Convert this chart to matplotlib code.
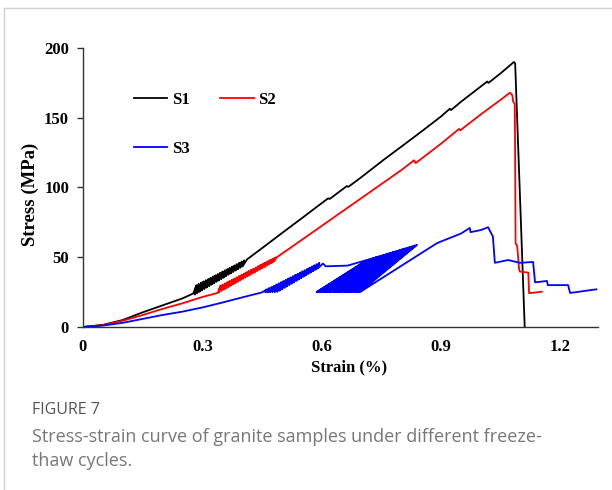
import matplotlib
matplotlib.use('Agg')
from matplotlib import pyplot as plt
from matplotlib.lines import Line2D

# ---- S1 (black) ----
s1_pre_x = [0, 0.05, 0.10, 0.15, 0.20, 0.25, 0.277]
s1_pre_y = [0, 1.5, 5, 10.5, 15.5, 20.5, 24]
# unloading/reloading cycles: peak points and valley points
s1_peak_x = [0.285, 0.291, 0.297, 0.303, 0.309, 0.315, 0.321, 0.327, 0.333, 0.339, 0.345,
             0.351, 0.357, 0.363, 0.369, 0.375, 0.381, 0.387, 0.393, 0.399, 0.405]
s1_peak_y = [30.0, 30.9, 31.8, 32.7, 33.6, 34.4, 35.3, 36.2, 37.1, 38.0, 38.9,
             39.8, 40.7, 41.5, 42.4, 43.3, 44.2, 45.1, 46.0, 46.9, 47.8]
s1_valley_x = [0.281, 0.287, 0.293, 0.299, 0.305, 0.311, 0.317, 0.323, 0.329, 0.335, 0.341,
               0.347, 0.353, 0.359, 0.365, 0.371, 0.377, 0.383, 0.389, 0.395, 0.401]
s1_valley_y = [23.2, 24.2, 25.2, 26.2, 27.2, 28.2, 29.3, 30.3, 31.3, 32.3, 33.3,
               34.3, 35.3, 36.4, 37.4, 38.4, 39.4, 40.4, 41.4, 42.4, 43.4]
s1_post_x = [0.412, 0.45, 0.50, 0.55, 0.60, 0.616, 0.620, 0.663, 0.667, 0.70, 0.754, 0.80,
             0.85, 0.90, 0.922, 0.925, 0.95, 1.00, 1.016, 1.019, 1.05, 1.083, 1.086, 1.11]
s1_post_y = [48.4, 56.5, 67.3, 78, 88.8, 92.2, 91.8, 101, 100.5, 107.5, 119.5, 129.3,
             140, 151, 156.5, 155.5, 161.5, 172.5, 176, 175, 182, 190, 189, 0]

# ---- S2 (red) ----
s2_pre_x = [0, 0.05, 0.10, 0.15, 0.20, 0.25, 0.30, 0.339]
s2_pre_y = [0, 1.3, 4.5, 8.6, 13, 17, 21.5, 24.5]
s2_peak_x = [0.345, 0.351, 0.357, 0.363, 0.369, 0.375, 0.381, 0.387, 0.393, 0.399, 0.405, 0.411,
             0.417, 0.423, 0.429, 0.435, 0.441, 0.447, 0.453, 0.459, 0.465, 0.471, 0.477, 0.483]
s2_peak_y = [29.5, 30.4, 31.3, 32.2, 33.1, 33.9, 34.8, 35.7, 36.6, 37.5, 38.4, 39.3,
             40.2, 41.0, 41.9, 42.8, 43.7, 44.6, 45.5, 46.4, 47.3, 48.1, 49.0, 49.9]
s2_valley_x = [0.341, 0.347, 0.353, 0.359, 0.365, 0.371, 0.377, 0.383, 0.389, 0.395, 0.401, 0.407,
               0.413, 0.419, 0.425, 0.431, 0.437, 0.443, 0.449, 0.455, 0.461, 0.467, 0.473, 0.479]
s2_valley_y = [24.8, 25.8, 26.7, 27.7, 28.6, 29.6, 30.5, 31.5, 32.5, 33.4, 34.4, 35.3,
               36.3, 37.2, 38.2, 39.1, 40.1, 41.0, 42.0, 42.9, 43.9, 44.9, 45.8, 46.8]
s2_post_x = [0.487, 0.55, 0.60, 0.65, 0.70, 0.75, 0.80, 0.832, 0.836, 0.90, 0.945, 0.948,
             1.00, 1.05, 1.073, 1.079, 1.081, 1.085, 1.086, 1.087, 1.091, 1.096,
             1.098, 1.119, 1.121, 1.153]
s2_post_y = [50, 62.5, 72.5, 82.5, 92.5, 102.5, 112.5, 119.5, 117.5, 131.5, 142, 141,
             152.5, 163, 168, 166, 161.5, 160, 122, 60, 58, 41,
             39.7, 39, 24.2, 25.3]

# ---- S3 (blue) ----
s3_pre_x = [0, 0.05, 0.10, 0.15, 0.20, 0.25, 0.30, 0.35, 0.40, 0.45]
s3_pre_y = [0, 1, 3, 5.8, 8.6, 11, 14, 17.5, 21.2, 24.8]
s3_peak_x = [0.462, 0.468, 0.474, 0.480, 0.486, 0.492, 0.498, 0.504, 0.510, 0.516, 0.522, 0.528,
             0.534, 0.540, 0.546, 0.552, 0.558, 0.564, 0.570, 0.576, 0.582, 0.588, 0.594]
s3_peak_y = [27.0, 27.9, 28.7, 29.6, 30.5, 31.3, 32.2, 33.0, 33.9, 34.8, 35.6, 36.5,
             37.4, 38.2, 39.1, 40.0, 40.8, 41.7, 42.6, 43.4, 44.3, 45.1, 46.0]
s3_valley_x = [0.458, 0.464, 0.470, 0.476, 0.482, 0.488, 0.494, 0.500, 0.506, 0.512, 0.518, 0.524,
               0.530, 0.536, 0.542, 0.548, 0.554, 0.560, 0.566, 0.572, 0.578, 0.584, 0.590]
s3_valley_y = [24.8, 24.8, 24.9, 25.0, 25.0, 25.2, 26.0, 27.0, 28.0, 29.0, 30.0, 31.0,
               32.0, 33.0, 34.0, 35.0, 36.0, 37.0, 38.0, 39.0, 40.0, 41.0, 42.0]
s3_mid_x = [0.603, 0.610, 0.665]
s3_mid_y = [45.5, 43.5, 44]
# second group of cycles, unloading down to about 25 MPa
s3_peak2_x = [0.713, 0.719, 0.725, 0.731, 0.737, 0.743, 0.749, 0.755, 0.761, 0.767, 0.773,
              0.779, 0.785, 0.791, 0.797, 0.803, 0.809, 0.815, 0.821, 0.827, 0.833, 0.839]
s3_peak2_y = [48.0, 48.5, 49.0, 49.6, 50.1, 50.6, 51.1, 51.6, 52.1, 52.7, 53.2,
              53.7, 54.2, 54.7, 55.3, 55.8, 56.3, 56.8, 57.3, 57.8, 58.4, 58.9]
s3_valley2_x = [0.587, 0.592, 0.597, 0.603, 0.608, 0.613, 0.618, 0.623, 0.629, 0.634, 0.639,
                0.644, 0.649, 0.655, 0.660, 0.665, 0.670, 0.675, 0.681, 0.686, 0.691, 0.696]
s3_valley2_y = [25.0, 25.0, 25.0, 25.0, 25.0, 25.0, 25.0, 25.0, 25.0, 25.0, 25.0,
                25.0, 25.0, 25.0, 25.0, 25.0, 25.0, 25.0, 25.0, 25.0, 25.0, 25.0]
s3_post_x = [0.889, 0.897, 0.95, 0.972, 0.974, 1.00, 1.018, 1.026, 1.030, 1.035,
             1.068, 1.098, 1.131, 1.136, 1.166, 1.168, 1.219, 1.224, 1.29]
s3_post_y = [60, 61, 67, 71, 68, 69.5, 71.5, 67, 65, 46,
             48, 46, 46.6, 32, 33, 30, 30, 24.4, 27]


def cycles(px, py, vx, vy):
    # peak -> valley -> next peak ...
    xs, ys = [], []
    for a, b, c, d in zip(px, py, vx, vy):
        xs += [a, c]
        ys += [b, d]
    return xs, ys


c1x, c1y = cycles(s1_peak_x, s1_peak_y, s1_valley_x, s1_valley_y)
s1_strain = s1_pre_x + c1x + s1_post_x
s1_stress = s1_pre_y + c1y + s1_post_y

c2x, c2y = cycles(s2_peak_x, s2_peak_y, s2_valley_x, s2_valley_y)
s2_strain = s2_pre_x + c2x + s2_post_x
s2_stress = s2_pre_y + c2y + s2_post_y

c3x, c3y = cycles(s3_peak_x, s3_peak_y, s3_valley_x, s3_valley_y)
c4x, c4y = cycles(s3_peak2_x, s3_peak2_y, s3_valley2_x, s3_valley2_y)
s3_strain = s3_pre_x + c3x + s3_mid_x + c4x + s3_post_x
s3_stress = s3_pre_y + c3y + s3_mid_y + c4y + s3_post_y

series = [('S1', s1_strain, s1_stress, 'black'),
          ('S2', s2_strain, s2_stress, '#ff0000'),
          ('S3', s3_strain, s3_stress, '#0000ff')]

fig = plt.figure(figsize=(6.12, 4.90), dpi=100)
ax = fig.add_axes([0.1356, 0.3327, 0.8414, 0.5693])

lines = {}
for name, xs, ys, col in series:
    lines[name], = ax.plot(xs, ys, color=col, lw=1.3, label=name)

ax.set_xlim(0, 1.294)
ax.set_ylim(0, 200)
ax.set_xticks([0, 0.3, 0.6, 0.9, 1.2])
ax.set_xticklabels(['0', '0.3', '0.6', '0.9', '1.2'])
ax.set_yticks([0, 50, 100, 150, 200])
for s in ['top', 'right']:
    ax.spines[s].set_visible(False)
for s in ['left', 'bottom']:
    ax.spines[s].set_color('#333333')
    ax.spines[s].set_linewidth(1.0)

ax.tick_params(axis='y', direction='out', length=4, width=1, color='#333333', pad=6)
ax.tick_params(axis='x', length=0, pad=9)
for lab in ax.get_xticklabels() + ax.get_yticklabels():
    lab.set_fontfamily('Liberation Serif')
    lab.set_fontweight('bold')
    lab.set_fontsize(12)

ax.set_xlabel('Strain (%)', family='Liberation Serif', weight='bold', size=12)
ax.xaxis.set_label_coords(0.516, -0.115)
ax.set_ylabel('Stress (MPa)', family='Liberation Serif', weight='bold', size=13.5)
ax.yaxis.set_label_coords(-0.085, 0.477)

ax.legend([lines['S1'], lines['S3'], lines['S2']], ['S1', 'S3', 'S2'],
          ncol=2, frameon=False, loc='upper left', bbox_to_anchor=(0.083, 0.874),
          borderpad=0, handlelength=2.0, handletextpad=0.26, columnspacing=1.86,
          labelspacing=2.0, prop=dict(family='Liberation Serif', weight='bold', size=12))

# border of the figure panel
fig.add_artist(Line2D([4 / 612, 4 / 612], [0, 1 - 8 / 490], color='#d0d0d0', lw=1))
fig.add_artist(Line2D([4 / 612, 1], [1 - 8 / 490, 1 - 8 / 490], color='#d0d0d0', lw=1))

fig.text(32 / 612, 1 - 410 / 490, 'FIGURE 7', family='Open Sans', size=11.5,
         color='#555555', va='center', ha='left')
fig.text(32 / 612, 1 - 437 / 490,
         'Stress-strain curve of granite samples under different freeze-',
         family='Open Sans', size=13, color='#777777', va='center', ha='left')
fig.text(32 / 612, 1 - 461 / 490, 'thaw cycles.', family='Open Sans', size=13,
         color='#777777', va='center', ha='left')

fig.savefig('out.png', dpi=100)
